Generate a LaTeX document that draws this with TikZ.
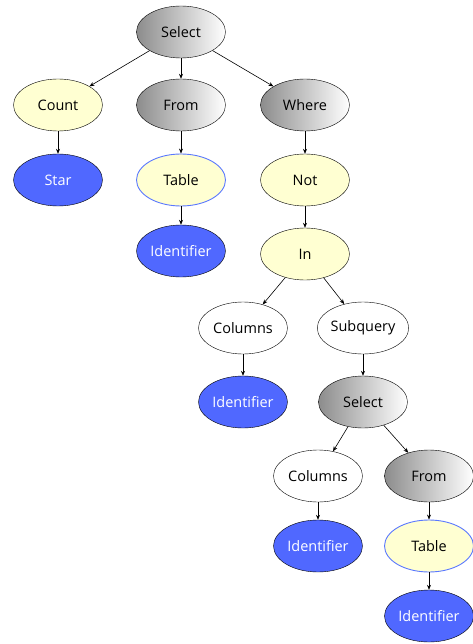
\documentclass[tikz,border=0pt]{standalone}
\usepackage{fontspec}
\setmainfont{Open Sans}
\usetikzlibrary{shapes.geometric,arrows.meta}
\definecolor{nodeyellow}{HTML}{FFFFD2}
\definecolor{nodeblue}{HTML}{5068FF}
\definecolor{tableedge}{HTML}{5A78FF}
\tikzset{
  tnode/.style={ellipse,draw,thin,minimum width=89bp,minimum height=52bp,inner sep=0pt,font=\fontsize{14.5}{16}\selectfont},
  graynode/.style={tnode,left color=black!45,right color=white},
  yellownode/.style={tnode,fill=nodeyellow},
  tablenode/.style={tnode,fill=nodeyellow,draw=tableedge,line width=0.9pt},
  bluenode/.style={tnode,fill=nodeblue,text=white},
  plainnode/.style={tnode,fill=white},
  edge/.style={-{Stealth[length=5pt,width=4pt]},semithick}
}
\begin{document}
\begin{tikzpicture}[x=1bp,y=-1bp]
\useasboundingbox (0,0) rectangle (473,644);

\node[graynode] (select) at (181,32) {Select};
\node[yellownode] (count) at (58,105) {Count};
\node[graynode] (from) at (181,105) {From};
\node[graynode] (where) at (305,105) {Where};
\node[bluenode] (star) at (58,180) {Star};
\node[tablenode] (table) at (181,180) {Table};
\node[yellownode] (not) at (305,180) {Not};
\node[bluenode] (ident) at (181,251) {Identifier};
\node[yellownode] (in) at (305,254) {In};
\node[plainnode] (columns) at (243,328) {Columns};
\node[plainnode] (subquery) at (363,328) {Subquery};
\node[bluenode] (colident) at (243,402) {Identifier};
\node[graynode] (subselect) at (363,402) {Select};
\node[plainnode] (subcolumns) at (318,476) {Columns};
\node[graynode] (subfrom) at (429,476) {From};
\node[bluenode] (subcolident) at (318,546) {Identifier};
\node[tablenode] (subtable) at (429,546) {Table};
\node[bluenode] (subident) at (429,616) {Identifier};

\draw[edge] (select) -- (count);
\draw[edge] (select) -- (from);
\draw[edge] (select) -- (where);
\draw[edge] (count) -- (star);
\draw[edge] (from) -- (table);
\draw[edge] (table) -- (ident);
\draw[edge] (where) -- (not);
\draw[edge] (not) -- (in);
\draw[edge] (in) -- (columns);
\draw[edge] (in) -- (subquery);
\draw[edge] (columns) -- (colident);
\draw[edge] (subquery) -- (subselect);
\draw[edge] (subselect) -- (subcolumns);
\draw[edge] (subselect) -- (subfrom);
\draw[edge] (subcolumns) -- (subcolident);
\draw[edge] (subfrom) -- (subtable);
\draw[edge] (subtable) -- (subident);
\end{tikzpicture}
\end{document}
